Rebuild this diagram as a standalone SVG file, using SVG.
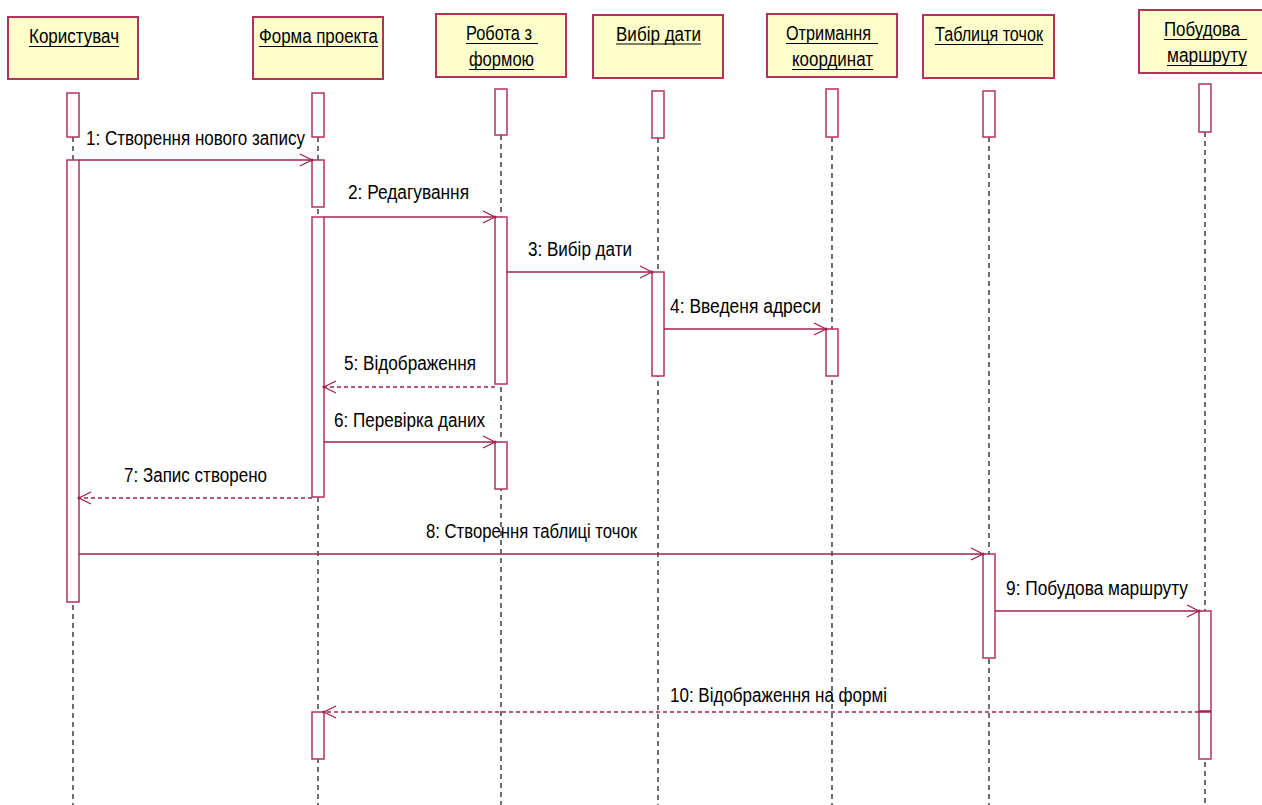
<svg xmlns="http://www.w3.org/2000/svg" width="1262" height="805" viewBox="0 0 1262 805">
<style>
.box{fill:#ffffcc;stroke:#b3325c;stroke-width:2}
.act{fill:#ffffff;stroke:#b3325c;stroke-width:1.5}
.life{stroke:#222;stroke-width:1.3;stroke-dasharray:5,4;fill:none}
.msg{stroke:#a3214c;stroke-width:1.4;fill:none}
.ret{stroke:#a3214c;stroke-width:1.4;fill:none;stroke-dasharray:4,3}
.ul{stroke:#000;stroke-width:1.2}
text{font-family:"Liberation Sans",Arial,sans-serif;font-size:19.5px;fill:#000}
</style>
<defs>
<marker id="arr" markerUnits="userSpaceOnUse" markerWidth="16" markerHeight="16" viewBox="-13 -8 16 16" refX="0" refY="0" orient="auto" overflow="visible">
<path d="M-12,-6 L0,0 L-12,6" fill="none" stroke="#a3214c" stroke-width="1.3"/>
<circle cx="0" cy="0" r="1.6" fill="#a3214c"/>
</marker>
</defs>
<rect width="1262" height="805" fill="#ffffff"/>

<g id="lifelines">
<line class="life" x1="73" y1="137" x2="73" y2="805"/>
<line class="life" x1="318" y1="137" x2="318" y2="805"/>
<line class="life" x1="501" y1="135" x2="501" y2="805"/>
<line class="life" x1="658" y1="138" x2="658" y2="805"/>
<line class="life" x1="832" y1="137" x2="832" y2="805"/>
<line class="life" x1="989" y1="137" x2="989" y2="805"/>
<line class="life" x1="1205" y1="132" x2="1205" y2="805"/>
</g>

<g id="node-korystuvach">
<rect class="box" x="8" y="17" width="130" height="62"/>
<text x="29" y="43" textLength="90" lengthAdjust="spacingAndGlyphs">Користувач</text>
<line class="ul" x1="29" y1="46.5" x2="119" y2="46.5"/>
<rect class="act" x="67" y="93" width="12" height="44"/>
<rect class="act" x="67" y="160" width="12" height="442"/>
</g>

<g id="node-forma">
<rect class="box" x="253" y="17" width="130" height="62"/>
<text x="259" y="43" textLength="119" lengthAdjust="spacingAndGlyphs">Форма проекта</text>
<line class="ul" x1="259" y1="46.5" x2="378" y2="46.5"/>
<rect class="act" x="312" y="93" width="12" height="44"/>
<rect class="act" x="312" y="160" width="12" height="47"/>
<rect class="act" x="312" y="217" width="12" height="280"/>
<rect class="act" x="312" y="712" width="12" height="47"/>
</g>

<g id="node-robota">
<rect class="box" x="436" y="14" width="130" height="63"/>
<text x="466" y="40" textLength="66" lengthAdjust="spacingAndGlyphs">Робота з</text>
<line class="ul" x1="466" y1="43.5" x2="538" y2="43.5"/>
<text x="469" y="66" textLength="65" lengthAdjust="spacingAndGlyphs">формою</text>
<line class="ul" x1="469" y1="69.5" x2="534" y2="69.5"/>
<rect class="act" x="495" y="89" width="12" height="46"/>
<rect class="act" x="495" y="217" width="12" height="167"/>
<rect class="act" x="495" y="442" width="12" height="47"/>
</g>

<g id="node-vybir">
<rect class="box" x="593" y="15" width="130" height="63"/>
<text x="616" y="41" textLength="85" lengthAdjust="spacingAndGlyphs">Вибір дати</text>
<line class="ul" x1="616" y1="44" x2="701" y2="44"/>
<rect class="act" x="652" y="91" width="12" height="47"/>
<rect class="act" x="652" y="272" width="12" height="104"/>
</g>

<g id="node-otrymannia">
<rect class="box" x="767" y="14" width="130" height="63"/>
<text x="786" y="40" textLength="85" lengthAdjust="spacingAndGlyphs">Отримання</text>
<line class="ul" x1="786" y1="43.5" x2="878" y2="43.5"/>
<text x="792" y="66" textLength="81" lengthAdjust="spacingAndGlyphs">координат</text>
<line class="ul" x1="792" y1="69.5" x2="873" y2="69.5"/>
<rect class="act" x="826" y="89" width="12" height="48"/>
<rect class="act" x="826" y="329" width="12" height="47"/>
</g>

<g id="node-tablytsia">
<rect class="box" x="923" y="15" width="131" height="63"/>
<text x="935" y="41" textLength="108" lengthAdjust="spacingAndGlyphs">Таблиця точок</text>
<line class="ul" x1="935" y1="44.5" x2="1043" y2="44.5"/>
<rect class="act" x="983" y="91" width="12" height="46"/>
<rect class="act" x="983" y="554" width="12" height="104"/>
</g>

<g id="node-pobudova">
<rect class="box" x="1139" y="10" width="130" height="63"/>
<text x="1164" y="36" textLength="76" lengthAdjust="spacingAndGlyphs">Побудова</text>
<line class="ul" x1="1164" y1="39.5" x2="1247" y2="39.5"/>
<text x="1167" y="62" textLength="80" lengthAdjust="spacingAndGlyphs">маршруту</text>
<line class="ul" x1="1167" y1="65.5" x2="1247" y2="65.5"/>
<rect class="act" x="1199" y="84" width="12" height="48"/>
<rect class="act" x="1199" y="611" width="12" height="148"/>
<line x1="1199" y1="711.5" x2="1211" y2="711.5" stroke="#a3214c" stroke-width="2.5"/>
</g>

<g id="connectors">
<line class="msg" x1="79" y1="160" x2="312" y2="160" marker-end="url(#arr)"/>
<line class="msg" x1="324" y1="217" x2="495" y2="217" marker-end="url(#arr)"/>
<line class="msg" x1="507" y1="272" x2="652" y2="272" marker-end="url(#arr)"/>
<line class="msg" x1="664" y1="329" x2="826" y2="329" marker-end="url(#arr)"/>
<line class="ret" x1="495" y1="387" x2="324" y2="387" marker-end="url(#arr)"/>
<line class="msg" x1="324" y1="442" x2="495" y2="442" marker-end="url(#arr)"/>
<line class="ret" x1="312" y1="498" x2="79" y2="498" marker-end="url(#arr)"/>
<line class="msg" x1="79" y1="554" x2="983" y2="554" marker-end="url(#arr)"/>
<line class="msg" x1="995" y1="611" x2="1199" y2="611" marker-end="url(#arr)"/>
<line class="ret" x1="1199" y1="712" x2="324" y2="712" marker-end="url(#arr)"/>

<text x="86" y="145" textLength="219" lengthAdjust="spacingAndGlyphs">1: Створення нового запису</text>
<text x="348" y="199" textLength="121" lengthAdjust="spacingAndGlyphs">2: Редагування</text>
<text x="528" y="256" textLength="104" lengthAdjust="spacingAndGlyphs">3: Вибір дати</text>
<text x="670" y="313" textLength="151" lengthAdjust="spacingAndGlyphs">4: Введеня адреси</text>
<text x="344" y="370" textLength="132" lengthAdjust="spacingAndGlyphs">5: Відображення</text>
<text x="334" y="427" textLength="151" lengthAdjust="spacingAndGlyphs">6: Перевірка даних</text>
<text x="124" y="482" textLength="143" lengthAdjust="spacingAndGlyphs">7: Запис створено</text>
<text x="426" y="538" textLength="211" lengthAdjust="spacingAndGlyphs">8: Створення таблиці точок</text>
<text x="1006" y="595" textLength="182" lengthAdjust="spacingAndGlyphs">9: Побудова маршруту</text>
<text x="670" y="702" textLength="217" lengthAdjust="spacingAndGlyphs">10: Відображення на формі</text>
</g>
</svg>
